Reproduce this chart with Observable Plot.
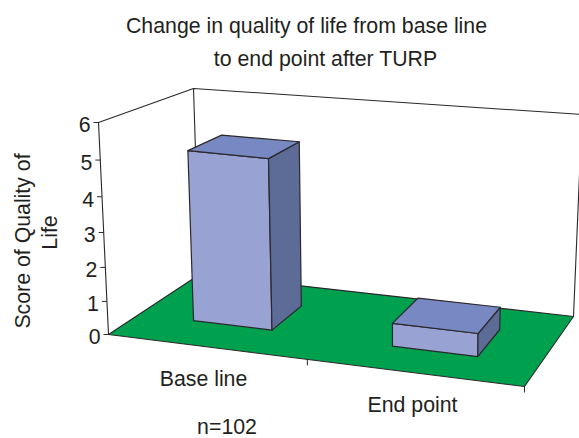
<!DOCTYPE html>
<html><head><meta charset="utf-8">
<script src="https://cdn.jsdelivr.net/npm/d3@7"></script>
<script src="https://cdn.jsdelivr.net/npm/@observablehq/plot@0.6"></script>
<style>html,body{margin:0;padding:0;background:#fff}svg{display:block}</style>
</head><body><div id="chart"></div>
<script>
const categories = ["Base line", "End point"];
const scores = [5.05, 0.7];
const valueTicks = [0, 1, 2, 3, 4, 5, 6];
const titleLines = ["Change in quality of life from base line", "to end point after TURP"];
const yLabelLines = ["Score of Quality of", "Life"];
const note = "n=102";

// Oblique view of the box: floor corners and the full-height (value 6) rise above each
const floorFL = [108, 334], floorFR = [524, 386], floorBL = [199, 274], floorBR = [573, 316];
const riseFL = [-10, -212], riseFR = [3, -218], riseBL = [-6, -186], riseBR = [8.5, -202];
const spanAlong = [[0.1347, 0.33], [0.633, 0.845]];
const spanDeep = [[0.34, 0.72], [0.32, 0.715]];
const vMax = 6;
const mix = (a, b, t) => a + (b - a) * t;
const bilerp = (fl, fr, bl, br, u, d, k) => mix(mix(fl[k], fr[k], u), mix(bl[k], br[k], u), d);
function project(u, d, v) {
  const s = v / vMax, t = s - 0.076 * s * (1 - s);
  return [0, 1].map(k => bilerp(floorFL, floorFR, floorBL, floorBR, u, d, k) + t * bilerp(riseFL, riseFR, riseBL, riseBR, u, d, k));
}
const pt = (u, d, v) => { const [x, y] = project(u, d, v); return {x, y}; };

const faces = {front: [], top: [], side: []};
scores.forEach((val, i) => {
  const [u0, u1] = spanAlong[i], [d0, d1] = spanDeep[i];
  const add = (k, pts) => [...pts, pts[0]].forEach(q => faces[k].push({...q, id: categories[i]}));
  add("front", [pt(u0,d0,0), pt(u1,d0,0), pt(u1,d0,val), pt(u0,d0,val)]);
  add("side",  [pt(u1,d0,0), pt(u1,d1,0), pt(u1,d1,val), pt(u1,d0,val)]);
  add("top",   [pt(u0,d0,val), pt(u1,d0,val), pt(u1,d1,val), pt(u0,d1,val)]);
});
const floor = [pt(0,0,0), pt(1,0,0), pt(1,1,0), pt(0,1,0), pt(0,0,0)];
const walls = [
  [pt(0,0,0), pt(0,0,vMax), pt(0,1,vMax), pt(1,1,vMax), pt(1,1,0)],
  [pt(0,1,vMax), pt(0,1,0)]
].flatMap((l, i) => l.map(q => ({...q, id: i})));

const ink = "#2a282b";
const common = {fontFamily: "Liberation Sans, Arial, sans-serif", fill: "#231f20", fontSize: 21.3};
const plot = Plot.plot({
  width: 579, height: 438, margin: 0,
  x: {domain: [0, 579], range: [0, 579], axis: null},
  y: {domain: [0, 438], range: [0, 438], axis: null},
  style: {background: "#fff"},
  marks: [
    Plot.line(walls, {x:"x", y:"y", z:"id", stroke: ink, strokeWidth: 1.1}),
    Plot.line(floor, {x:"x", y:"y", fill:"#00a14e", stroke: ink, strokeWidth: 1.1}),
    Plot.link(valueTicks, {x1: v=>project(0,0,v)[0], y1: v=>project(0,0,v)[1], x2: v=>project(0,0,v)[0]-5, y2: v=>project(0,0,v)[1], stroke: ink}),
    Plot.link([0.478, 1], {x1: u=>project(u,0,0)[0], y1: u=>project(u,0,0)[1], x2: u=>project(u,0,0)[0], y2: u=>project(u,0,0)[1]+6, stroke: ink}),
    Plot.line(faces.front, {x:"x", y:"y", z:"id", fill:"#99a3d3", stroke: ink, strokeWidth: 1.2}),
    Plot.line(faces.side,  {x:"x", y:"y", z:"id", fill:"#5d6b97", stroke: ink, strokeWidth: 1.2}),
    Plot.line(faces.top,   {x:"x", y:"y", z:"id", fill:"#7888c2", stroke: ink, strokeWidth: 1.2}),
    Plot.text(valueTicks, {x: v=>project(0,0,v)[0]-8, y: v=>project(0,0,v)[1]+3, text: v=>String(v), textAnchor:"end", ...common}),
    Plot.text(categories, {x: [203,412], y: [379,405], text: c=>c, ...common}),
    Plot.text(titleLines, {x: [306,325], y: [26,59], text: t=>t, ...common}),
    Plot.text(yLabelLines, {x: [22.5,50], y: [240.5,232], text: t=>t, rotate: -90, ...common}),
    Plot.text([note], {x: [226.5], y: [427], text: t=>t, ...common})
  ]
});
document.getElementById("chart").append(plot);
</script></body></html>
